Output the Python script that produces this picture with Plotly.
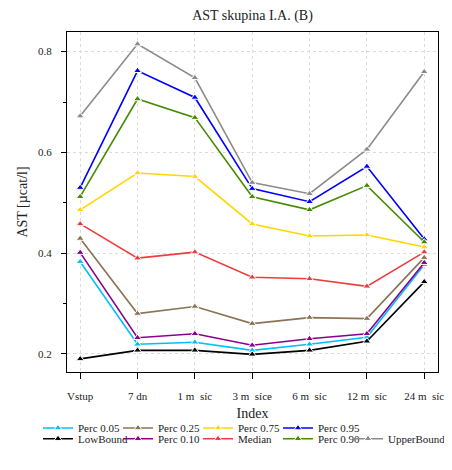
import plotly.graph_objects as go

categories = ["Vstup", "7 dn", "1 m\u00a0\u00a0síc", "3 m\u00a0\u00a0síce", "6 m\u00a0\u00a0síc", "12 m\u00a0\u00a0síc", "24 m\u00a0\u00a0síc"]

perc_005 = [0.383, 0.219, 0.223, 0.207, 0.219, 0.233, 0.377]
low_bound = [0.190, 0.207, 0.207, 0.199, 0.207, 0.225, 0.343]
perc_025 = [0.429, 0.280, 0.294, 0.260, 0.272, 0.270, 0.391]
perc_010 = [0.401, 0.232, 0.240, 0.217, 0.230, 0.240, 0.381]
perc_075 = [0.486, 0.559, 0.552, 0.458, 0.434, 0.436, 0.412]
median = [0.458, 0.390, 0.402, 0.352, 0.349, 0.334, 0.402]
perc_095 = [0.530, 0.762, 0.709, 0.528, 0.502, 0.572, 0.428]
perc_090 = [0.512, 0.706, 0.669, 0.512, 0.486, 0.534, 0.422]
upper_bound = [0.672, 0.815, 0.748, 0.540, 0.518, 0.606, 0.760]

# (name, values, colour, legend column, legend row)
series = [
    ("Perc 0.05", perc_005, "#00BFFF", 0, 0),
    ("LowBound", low_bound, "#000000", 0, 1),
    ("Perc 0.25", perc_025, "#8B7355", 1, 0),
    ("Perc 0.10", perc_010, "#8B008B", 1, 1),
    ("Perc 0.75", perc_075, "#FFD700", 2, 0),
    ("Median", median, "#EE3B3B", 2, 1),
    ("Perc 0.95", perc_095, "#0000FF", 3, 0),
    ("Perc 0.90", perc_090, "#458B00", 3, 1),
    ("UpperBound", upper_bound, "#8B8B8B", 4, 1),
]

FONT = "Liberation Serif"
TXT = "#222222"
xs = list(range(len(categories)))

# figure is placed by the page at an 8px offset; sizes chosen to fit the window
W, H = 444, 462
L, R, T, B = 59, 14, 24, 98
pw = W - L - R
ph = H - T - B

def px_x(p):
    return (p - L) / pw

def px_y(p):
    return (H - B - p) / ph

fig = go.Figure()
legends = {}
for i, (name, vals, col, c, r) in enumerate(series):
    key = "legend" if i == 0 else "legend%d" % (i + 1)
    fig.add_trace(go.Scatter(
        x=xs, y=vals, name=name, mode="lines+markers",
        line=dict(color=col, width=1.6),
        marker=dict(symbol="triangle-up", size=7, color=col,
                    line=dict(color="white", width=1)),
        legend=key,
    ))
    if c == 4:
        lx, xa = px_x(W - 1), "right"
    else:
        lx, xa = px_x(30 + 80 * c), "left"
    legends[key] = dict(
        x=lx, y=px_y(420 + 10.7 * r),
        xanchor=xa, yanchor="middle",
        font=dict(family=FONT, size=11, color=TXT),
        bgcolor="rgba(0,0,0,0)", itemclick=False,
    )

fig.update_layout(
    width=W, height=H,
    margin=dict(l=L, r=R, t=T, b=B, autoexpand=False),
    paper_bgcolor="white", plot_bgcolor="white",
    font=dict(family=FONT, size=11, color=TXT),
    title=dict(text="AST skupina I.A. (B)", x=(L + pw / 2) / W, xanchor="center",
               y=1 - 7 / H, yanchor="middle", font=dict(family=FONT, size=14, color=TXT)),
    showlegend=True,
    **legends,
    xaxis=dict(
        range=[-0.23, 6.24], tickvals=xs, ticktext=categories,
        showline=True, linecolor="black", linewidth=1.3, mirror=True,
        ticks="outside", ticklen=6, tickcolor="black", ticklabelstandoff=8,
        showgrid=True, gridcolor="#dcdcdc", griddash="dot", gridwidth=1,
        zeroline=False,
        tickfont=dict(family=FONT, size=11, color=TXT),
        title=dict(text="Index", font=dict(family=FONT, size=14, color=TXT), standoff=6),
    ),
    yaxis=dict(
        range=[0.164, 0.839], tickvals=[0.2, 0.4, 0.6, 0.8], ticktext=["0.2", "0.4", "0.6", "0.8"],
        showline=True, linecolor="black", linewidth=1.3, mirror=True,
        ticks="outside", ticklen=5, tickcolor="black", ticklabelstandoff=7,
        minor=dict(tickvals=[0.3, 0.5, 0.7], ticks="outside", ticklen=3, tickcolor="black", showgrid=False),
        showgrid=True, gridcolor="#dcdcdc", griddash="dot", gridwidth=1,
        zeroline=False,
        tickfont=dict(family=FONT, size=11, color=TXT),
        title=dict(text="AST [µcat/l]", font=dict(family=FONT, size=14, color=TXT), standoff=7),
    ),
)

fig.write_html("out.html")
